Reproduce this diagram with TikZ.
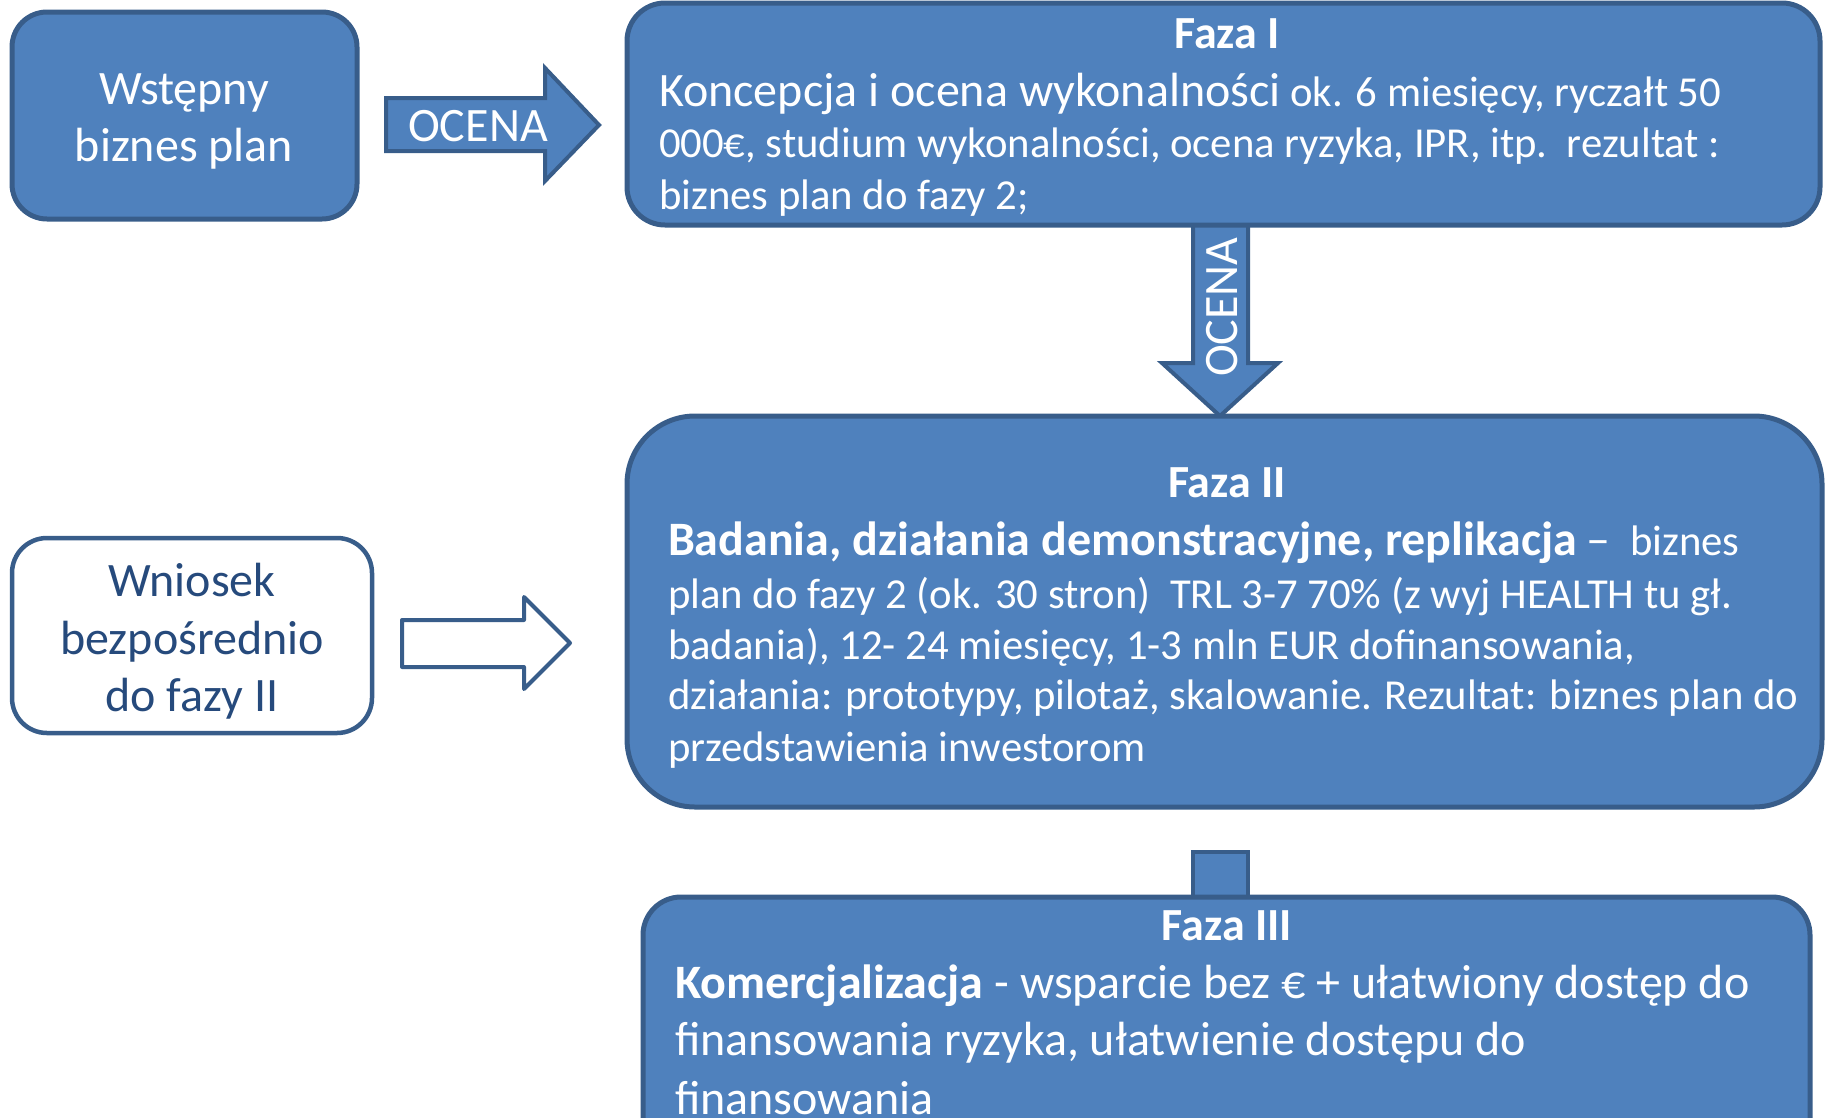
\documentclass[tikz,border=0pt]{standalone}
\usepackage{fontspec}
\setmainfont{Carlito}
\definecolor{fillb}{HTML}{4F81BD}
\definecolor{edgeb}{HTML}{385D8A}
\definecolor{textb}{HTML}{264A7C}
\newcommand\FzBig{\fontsize{48}{57}\selectfont}
\newcommand\FzSmall{\fontsize{42.7}{50}\selectfont}
\newcommand\FzHead{\fontsize{46}{55}\selectfont\bfseries}
\tikzset{
  phase/.style={draw=edgeb, fill=fillb, line width=5pt, inner sep=0pt},
  plainbox/.style={draw=edgeb, fill=white, line width=4.5pt, inner sep=0pt},
  blockarrow/.style={draw=edgeb, fill=fillb, line width=4pt, line join=miter},
  hollowarrow/.style={draw=edgeb, fill=white, line width=4pt, line join=round},
  ln/.style={inner sep=0pt, outer sep=0pt, text=white, anchor=base west},
  ctr/.style={inner sep=0pt, outer sep=0pt, text=white, anchor=base},
}
\begin{document}
\begin{tikzpicture}[x=1pt,y=-1pt]
\useasboundingbox (0,0) rectangle (1825,1117);
\clip (0,0) rectangle (1825,1117);

% block arrows and connector (drawn under the boxes)
\draw[blockarrow] (386,98) -- (545,98) -- (545,68) -- (599,125) -- (545,181) -- (545,151) -- (386,151) -- cycle;
\draw[blockarrow] (1193,222) -- (1248,222) -- (1248,363) -- (1278,363) -- (1220,416) -- (1162,363) -- (1193,363) -- cycle;
\draw[hollowarrow] (402,620) -- (524,620) -- (524,597) -- (570,643) -- (524,689) -- (524,667) -- (402,667) -- cycle;
\draw[blockarrow] (1193,852) rectangle (1248,900);

% boxes
\node[phase, rounded corners=35pt, minimum width=345pt, minimum height=207pt] (b1) at (184.5,115.5) {};
\node[plainbox, rounded corners=35pt, minimum width=360pt, minimum height=195pt] (b2) at (192,635.5) {};
\node[phase, rounded corners=38pt, minimum width=1193pt, minimum height=222pt] (f1) at (1223.5,114) {};
\node[phase, rounded corners=68pt, minimum width=1195pt, minimum height=391pt] (f2) at (1224.5,611.5) {};
\node[phase, rounded corners=38pt, minimum width=1167pt, minimum height=280pt] (f3) at (1226.5,1037) {};

% arrow labels
\node[ctr, font=\FzBig] (o1) at (478,141) {OCENA};
\node[ctr, font=\FzBig, rotate=90] (o2) at (1237,307) {OCENA};

% left boxes text
\node[ctr, font=\FzBig] (b1a) at (184,104) {Wstępny};
\node[ctr, font=\FzBig] (b1b) at (184,161) {biznes plan};
\node[ctr, font=\FzBig, text=textb] (b2a) at (192,596) {Wniosek};
\node[ctr, font=\FzBig, text=textb] (b2b) at (192,654) {bezpośrednio};
\node[ctr, font=\FzBig, text=textb] (b2c) at (192,711) {do fazy II};

% Faza I
\node[ctr, font=\FzHead] (h1) at (1227,48) {Faza I};
\node[ln, font=\FzSmall] (f1a) at (659,106) {{\FzBig Koncepcja i ocena wykonalności} ok. 6 miesięcy, ryczałt 50};
\node[ln, font=\FzSmall] (f1b) at (659,157) {000€, studium wykonalności, ocena ryzyka, IPR, itp.\ \ rezultat :};
\node[ln, font=\FzSmall] (f1c) at (659,209) {biznes plan do fazy 2;};

% Faza II
\node[ctr, font=\FzHead] (h2) at (1227,497) {Faza II};
\node[ln, font=\FzSmall] (f2a) at (668,555) {{\FzBig\bfseries Badania, działania demonstracyjne, replikacja} {\FzBig –}\ \ biznes};
\node[ln, font=\FzSmall] (f2b) at (668,608) {plan do fazy 2 (ok. 30 stron)\ \ TRL 3-7 70\% (z wyj HEALTH tu gł.};
\node[ln, font=\FzSmall] (f2c) at (668,659) {badania), 12- 24 miesięcy, 1-3 mln EUR dofinansowania,};
\node[ln, font=\FzSmall] (f2d) at (668,709) {działania: prototypy, pilotaż, skalowanie. Rezultat: biznes plan do};
\node[ln, font=\FzSmall] (f2e) at (668,761) {przedstawienia inwestorom};

% Faza III
\node[ctr, font=\FzHead] (h3) at (1227,940) {Faza III};
\node[ln, font=\FzBig] (f3a) at (675,998) {{\bfseries Komercjalizacja} - wsparcie bez € + ułatwiony dostęp do};
\node[ln, font=\FzBig] (f3b) at (675,1055) {finansowania ryzyka, ułatwienie dostępu do};
\node[ln, font=\FzBig] (f3c) at (675,1114) {finansowania};
\end{tikzpicture}
\end{document}
